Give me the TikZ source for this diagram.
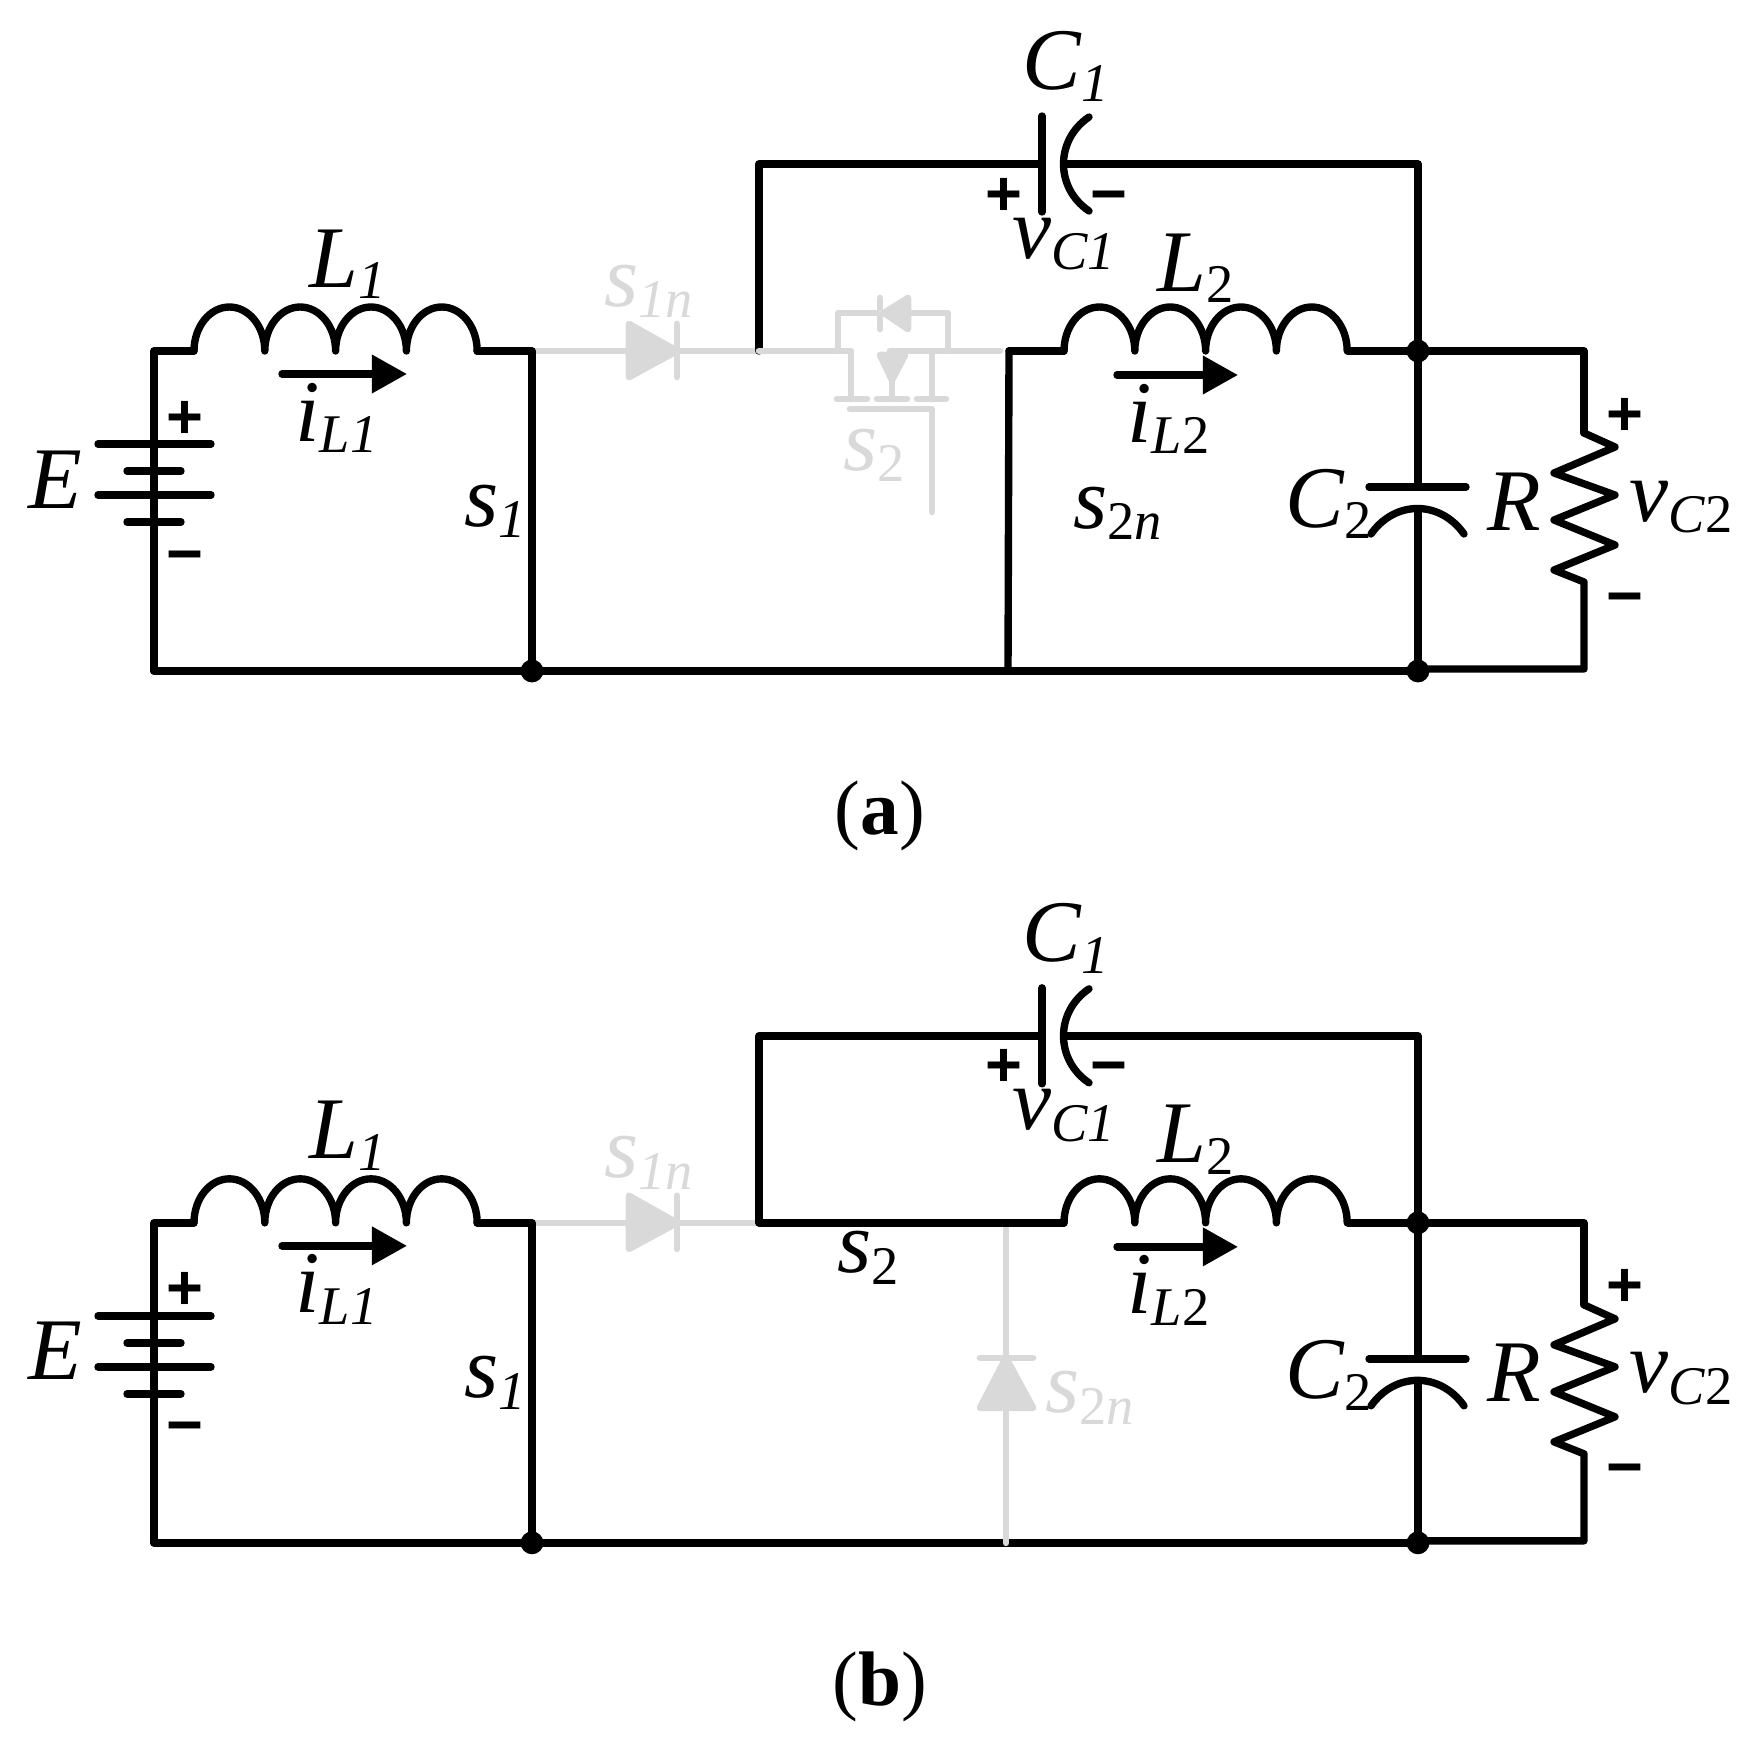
\documentclass[tikz,border=0pt]{standalone}
\usepackage{fontspec}
\setmainfont{Liberation Serif}
\newfontfamily\signfont{Liberation Sans}
\usetikzlibrary{arrows.meta}
\definecolor{offgray}{HTML}{D9D9D9}
\newcommand{\withsub}[2]{\textit{#1}\raisebox{-6.8pt}{\fontsize{31}{31}\selectfont #2}}
\newcommand{\coil}[1]{\draw[wire] (#1) \foreach \k in {1,...,4} {arc[start angle=180,end angle=0,x radius=35.4,y radius=44]};}
\newcommand{\basecircuit}{
	\coordinate (n1) at (154,-351);
	\coordinate (n2) at (194,-351);
	\coordinate (n3) at (477,-351);
	\coordinate (n4) at (532,-351);
	\coordinate (n5) at (532,-671);
	\coordinate (n6) at (154,-671);
	\coordinate (n7) at (154,-444);
	\coordinate (n8) at (154,-522);
	\coordinate (n9) at (759,-351);
	\coordinate (n10) at (759,-164);
	\coordinate (n11) at (1042,-164);
	\coordinate (n12) at (1064,-164);
	\coordinate (n13) at (1418,-164);
	\coordinate (n14) at (1418,-351);
	\coordinate (n15) at (1418,-671);
	\coordinate (n16) at (1064,-351);
	\coordinate (n17) at (1348,-351);
	\coordinate (n18) at (1584,-351);
	\coordinate (n19) at (1584,-433);
	\coordinate (n20) at (1584,-582);
	\coordinate (n21) at (1584,-669);
	\coordinate (n22) at (1418,-487);
	\coordinate (n23) at (1418,-509);
	\coordinate (n24) at (1418,-669);
	\coordinate (d1) at (629,-351);
	\coordinate (d2) at (677,-351);
	\draw[offwire] (n4) -- (d1);
	\draw[offwire] (d2) -- (n9);
	\fill[offfill] (d1) ++(0,27) -- (d2) -- ++(-48,-26) -- cycle;
	\draw[offwire] (677,-324) -- (677,-377);
	\draw[wire] (n6) -- (n7);
	\draw[wire] (n8) -- (n6) -- (n5);
	\draw[wire] (n2) -- (n1) -- (n7);
	\coil{n2}
	\draw[wire] (n3) -- (n4) -- (n5);
	\draw[wire] (n9) -- (n10) -- (n11);
	\draw[wire] (n12) -- (n13) -- (n14);
	\coil{n16}
	\draw[wire] (n17) -- (n14) -- (n18) -- (n19);
	\draw[wire] (n19) -- ++(31,-14) -- ++(-61,-26) -- ++(61,-22) -- ++(-61,-25) -- ++(61,-25) -- ++(-61,-25) -- (n20) -- (n21) -- (n24);
	\draw[wire] (n5) -- (n15);
	\draw[wire] (n14) -- (n22);
	\draw[wire] (n23) -- (n15);
	\draw[wire] (1369,-487) -- (1466,-487);
	\draw[wire] (1371,-534) .. controls (1395,-500) and (1440,-500) .. (1464,-534);
	\draw[wire] (1042,-116) -- (1042,-212);
	\draw[wire] (1089,-117) .. controls (1055,-140) and (1055,-188) .. (1089,-211);
	\draw[wire] (98,-444) -- (211,-444);
	\draw[wire] (127,-471) -- (181,-471);
	\draw[wire] (98,-495) -- (211,-495);
	\draw[wire] (127,-522) -- (181,-522);
	\draw[wire,-{Triangle[length=20pt,width=21pt]}] (282,-374) -- (407,-374);
	\draw[wire,-{Triangle[length=20pt,width=21pt]}] (1117,-375) -- (1238,-375);
	\node[junction] (j1) at (n5) {};
	\node[junction] (j2) at (n14) {};
	\node[junction] (j3) at (n15) {};
	\node[sign] (p1) at (185,-417) {+};
	\node[sign] (m1) at (185,-554) {−};
	\node[sign] (p2) at (1004,-194) {+};
	\node[sign] (m2) at (1109,-194) {−};
	\node[sign] (p3) at (1625,-414) {+};
	\node[sign] (m3) at (1625,-596) {−};
	\node[lbl] (E) at (28,-508) {\textit{E}};
	\node[lbl] (L1) at (309,-287) {\withsub{L}{\textit{1}}};
	\node[lbl] (iL1) at (295,-441) {\withsub{i}{\textit{L1}}};
	\node[lbl] (s1) at (464,-526) {\withsub{s}{\textit{1}}};
	\node[lbl,text=offgray] (s1n) at (604,-306) {\withsub{s}{\textit{1n}}};
	\node[lbl] (C1) at (1022,-90) {\withsub{C}{\textit{1}}};
	\node[lbl] (vC1) at (1012,-258) {\withsub{v}{\textit{C1}}};
	\node[lbl] (L2) at (1157,-291) {\withsub{L}{2}};
	\node[lbl] (iL2) at (1127,-442) {\withsub{i}{\textit{L}2}};
	\node[lbl] (C2) at (1285,-527) {\withsub{C}{2}};
	\node[lbl] (R) at (1487,-530) {\textit{R}};
	\node[lbl] (vC2) at (1629,-521) {\withsub{v}{\textit{C}2}};
}
\begin{document}
\begin{tikzpicture}[x=0.02cm,y=0.02cm,line join=round]
	\tikzstyle{wire}=[draw=black,line width=4.2pt,line cap=round]
	\tikzstyle{offwire}=[draw=offgray,line width=3.8pt,line cap=round]
	\tikzstyle{offfill}=[draw=offgray,fill=offgray,line width=3.8pt]
	\tikzstyle{junction}=[circle,fill=black,inner sep=0pt,minimum size=13pt]
	\tikzstyle{lbl}=[anchor=base west,inner sep=0pt,font=\fontsize{50}{50}\selectfont]
	\tikzstyle{sign}=[inner sep=0pt,text height=24pt,text depth=0pt,font=\signfont\fontsize{36}{36}\selectfont\bfseries]
	\tikzstyle{tag}=[anchor=base,inner sep=0pt,font=\fontsize{44}{44}\selectfont]
	\useasboundingbox (0,0) rectangle (1754,-1754);
	\begin{scope}[name prefix=a]
		\basecircuit
		\coordinate (k1) at (851,-351);
		\coordinate (k2) at (890,-351);
		\coordinate (k3) at (932,-351);
		\coordinate (k4) at (1000,-351);
		\coordinate (k5) at (1009,-351);
		\coordinate (k6) at (1008,-671);
		\draw[offwire] (n9) -- (k1) -- (851,-399);
		\draw[offwire] (k2) -- (k4);
		\draw[offwire] (k3) -- (932,-399);
		\draw[offwire] (892,-378) -- (892,-399);
		\fill[offfill] (880,-355) -- (905,-355) -- (892,-380) -- cycle;
		\draw[offwire] (837,-399) -- (867,-399);
		\draw[offwire] (877,-399) -- (907,-399);
		\draw[offwire] (917,-399) -- (946,-399);
		\draw[offwire] (850,-409) -- (932,-409) -- (932,-512);
		\draw[offwire] (838,-351) -- (838,-313) -- (948,-313) -- (948,-351);
		\fill[offfill] (908,-298) -- (908,-329) -- (884,-313) -- cycle;
		\draw[offwire] (880,-298) -- (880,-329);
		\draw[wire] (k5) -- (n16);
		\draw[wire] (k5) -- (k6);
		\node[lbl,text=offgray] (s2) at (843,-470) {\withsub{s}{2}};
		\node[lbl] (s2n) at (1073,-528) {\withsub{s}{2\textit{n}}};
		\node[tag] (cap) at (880,-834) {(\textbf{a})};
	\end{scope}
	\begin{scope}[yshift=-17.44cm,name prefix=b]
		\basecircuit
		\coordinate (k1) at (1006,-351);
		\coordinate (k2) at (1006,-671);
		\draw[offwire] (k1) -- (k2);
		\fill[offfill] (1006,-486) -- (1033,-536) -- (980,-536) -- cycle;
		\draw[offwire] (980,-486) -- (1033,-486);
		\draw[wire] (n9) -- (n16);
		\node[lbl] (s2) at (837,-401) {\withsub{s}{2}};
		\node[lbl,text=offgray] (s2n) at (1045,-541) {\withsub{s}{2\textit{n}}};
		\node[tag] (cap) at (880,-834) {(\textbf{b})};
	\end{scope}
\end{tikzpicture}
\end{document}
